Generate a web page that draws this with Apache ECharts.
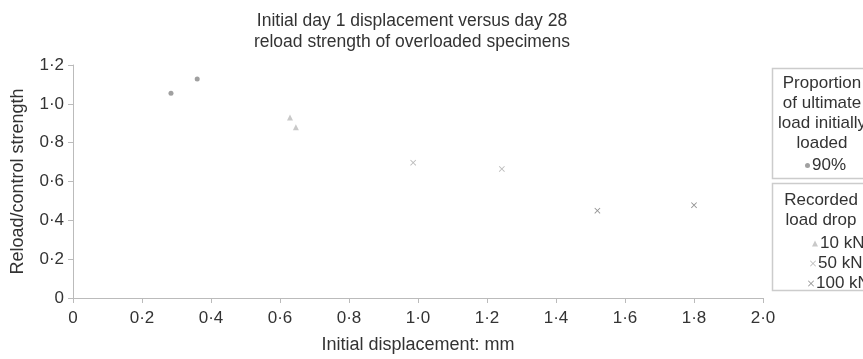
<!DOCTYPE html>
<html>
<head>
<meta charset="utf-8">
<script src="https://cdn.jsdelivr.net/npm/echarts@6/dist/echarts.min.js"></script>
<style>
  html, body { margin: 0; padding: 0; background: #fff; }
  #chart { width: 863px; height: 359px; }
</style>
</head>
<body>
<div id="chart"></div>
<script>
// [displacement mm, reload/control strength]
const pts90 = [[0.284, 1.055], [0.36, 1.128]];
const pts10kN = [[0.629, 0.93], [0.646, 0.879]];
const pts50kN = [[0.986, 0.697], [1.243, 0.665]];
const pts100kN = [[1.52, 0.45], [1.80, 0.478]];

const xTicks = [0, 0.2, 0.4, 0.6, 0.8, 1.0, 1.2, 1.4, 1.6, 1.8, 2.0];
const yTicks = [0, 0.2, 0.4, 0.6, 0.8, 1.0, 1.2];

const FONT = "Liberation Sans, Arial, sans-serif";
const TXT = "#333";
const crossPath = "path://M0,1L1,0L5,4L9,0L10,1L6,5L10,9L9,10L5,6L1,10L0,9L4,5Z";
const slashPath = "path://M0,9L9,0L10,1L1,10Z";

const dotFmt = v => (v === 0 ? "0" : v.toFixed(1).replace(".", "·"));

const chart = echarts.init(document.getElementById("chart"));

const legendText = { fontSize: 17, color: TXT, padding: [0, 0, 0, -3] };

chart.setOption({
  animation: false,
  backgroundColor: "#fff",
  textStyle: { fontFamily: FONT },
  title: {
    text: "Initial day 1 displacement versus day 28\nreload strength of overloaded specimens",
    left: 407,
    top: 6,
    textAlign: "center",
    textStyle: { fontSize: 17.5, fontWeight: "normal", color: TXT, lineHeight: 21, fontFamily: FONT }
  },
  grid: { left: 73, right: 100, top: 65, bottom: 57 },
  xAxis: {
    type: "value",
    min: xTicks[0],
    max: xTicks[xTicks.length - 1],
    interval: 0.2,
    name: "Initial displacement: mm",
    nameLocation: "middle",
    nameGap: 38,
    nameTextStyle: { fontSize: 18, color: TXT, fontFamily: FONT },
    axisLine: { lineStyle: { color: "#bbb" } },
    axisTick: { show: true, lineStyle: { color: "#bbb" }, length: 5 },
    axisLabel: { fontSize: 17, color: TXT, margin: 12, formatter: dotFmt },
    splitLine: { show: false }
  },
  yAxis: {
    type: "value",
    min: yTicks[0],
    max: yTicks[yTicks.length - 1],
    interval: 0.2,
    name: "Reload/control strength",
    nameLocation: "middle",
    nameGap: 46,
    nameTextStyle: { fontSize: 18, color: TXT, fontFamily: FONT },
    axisLine: { show: true, lineStyle: { color: "#bbb" } },
    axisTick: { show: true, lineStyle: { color: "#bbb" }, length: 5 },
    axisLabel: { fontSize: 17, color: TXT, margin: 9, formatter: dotFmt },
    splitLine: { show: false }
  },
  legend: [
    { data: ["90%"], left: 800, top: 152, itemWidth: 5, itemHeight: 5, textStyle: legendText },
    { data: ["10 kN"], left: 807, top: 230, itemWidth: 6, itemHeight: 6, textStyle: legendText },
    { data: ["50 kN"], left: 805, top: 250, itemWidth: 6, itemHeight: 6, textStyle: legendText },
    { data: ["100 kN"], left: 803, top: 270, itemWidth: 6, itemHeight: 6, textStyle: legendText }
  ],
  graphic: [
    { type: "rect", shape: { x: 772.5, y: 68.5, width: 120, height: 110 },
      style: { fill: "none", stroke: "#ccc", lineWidth: 1.5 } },
    { type: "rect", shape: { x: 772.5, y: 183.5, width: 120, height: 107 },
      style: { fill: "none", stroke: "#ccc", lineWidth: 1.5 } },
    { type: "text", x: 822, y: 73,
      style: { text: "Proportion\nof ultimate\nload initially\nloaded", fill: TXT, font: "17px " + FONT,
               lineHeight: 20, align: "center" } },
    { type: "text", x: 821, y: 190,
      style: { text: "Recorded\nload drop", fill: TXT, font: "17px " + FONT, lineHeight: 20, align: "center" } }
  ],
  series: [
    { name: "90%", type: "scatter", data: pts90, symbol: "circle", symbolSize: 5,
      itemStyle: { color: "#888" } },
    { name: "10 kN", type: "scatter", data: pts10kN, symbol: "triangle", symbolSize: 6,
      itemStyle: { color: "#bbb" } },
    { name: "50 kN", type: "scatter", data: pts50kN, symbol: crossPath, symbolSize: 6,
      itemStyle: { color: "#aaa" } },
    { name: "100 kN", type: "scatter", data: pts100kN, symbol: crossPath, symbolSize: 6,
      itemStyle: { color: "#777" } }
  ]
});

window.addEventListener("resize", () => chart.resize());
</script>
</body>
</html>
